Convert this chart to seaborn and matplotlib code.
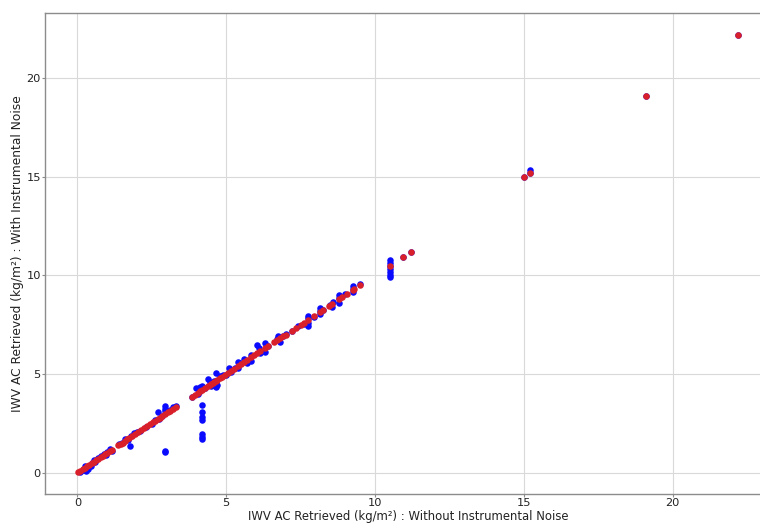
import matplotlib
matplotlib.use("Agg")
import matplotlib.pyplot as plt
import seaborn as sns
import pandas as pd

# Retrieval without instrumental noise (red points lie on y = x)
red_x = [0.02, 0.1, 0.18, 0.25, 0.32, 0.4, 0.48, 0.55, 0.63, 0.7, 0.78, 0.85, 0.92, 1.0,
         1.08, 1.15, 1.38, 1.45, 1.52, 1.6, 1.68, 1.75, 1.85, 1.95, 2.05, 2.15, 2.25, 2.35,
         2.45, 2.55, 2.62, 2.7, 2.78, 2.85, 2.95, 3.05, 3.12, 3.2, 3.3, 3.85, 3.95, 4.05,
         4.12, 4.2, 4.3, 4.4, 4.45, 4.5, 4.55, 4.6, 4.65, 4.7, 4.78, 4.85, 4.95, 5.05, 5.15,
         5.25, 5.4, 5.5, 5.6, 5.7, 5.85, 5.95, 6.05, 6.15, 6.3, 6.4, 6.6, 6.7, 6.8, 6.9, 7.0,
         7.2, 7.35, 7.5, 7.6, 7.75, 7.95, 8.15, 8.25, 8.45, 8.55, 8.78, 8.9, 9.05, 9.25, 9.3,
         9.5, 10.5, 10.95, 11.2, 15.0, 15.2, 19.1, 22.2]
red_y = list(red_x)

# Retrieval with instrumental noise (blue points)
blue_x = [0.1, 0.2, 0.25, 0.3, 0.35, 0.45, 0.5, 0.55, 0.6, 0.7, 0.8, 0.9, 0.95, 1.0, 1.1, 1.15,
          1.4, 1.5, 1.6, 1.7, 1.78, 1.8, 1.9, 2.0, 2.1, 2.3, 2.5, 2.6, 2.72, 2.75, 2.85,
          2.95, 2.95, 2.95, 2.95, 2.95, 3.1, 3.2, 3.3,
          3.85, 4.0, 4.05, 4.1, 4.12, 4.2, 4.2, 4.2, 4.2, 4.2, 4.2, 4.2, 4.2, 4.3, 4.4, 4.45,
          4.5, 4.55, 4.6, 4.65, 4.65, 4.7, 4.8, 4.9, 5.0, 5.1, 5.15, 5.3, 5.4, 5.4, 5.45, 5.6,
          5.7, 5.85, 5.85, 6.05, 6.1, 6.15, 6.3, 6.3, 6.4, 6.7, 6.75, 6.8, 6.9, 7.0, 7.2,
          7.4, 7.6, 7.75, 7.75, 7.75, 7.75, 7.95, 8.15, 8.15, 8.15, 8.25, 8.5, 8.55, 8.6,
          8.78, 8.78, 8.78, 9.0, 9.25, 9.25, 9.25, 9.5, 10.5, 10.5, 10.5, 10.5, 10.5, 10.5,
          10.5, 10.95, 11.2, 15.0, 15.2, 15.2, 19.1, 22.2]
blue_y = [0.05, 0.12, 0.35, 0.1, 0.2, 0.35, 0.5, 0.62, 0.55, 0.75, 0.85, 0.95, 0.9, 1.05, 1.2, 1.1,
          1.45, 1.5, 1.68, 1.65, 1.33, 1.85, 2.0, 2.05, 2.1, 2.3, 2.45, 2.68, 3.08, 2.7, 2.85,
          3.35, 3.22, 3.1, 1.1, 1.05, 3.15, 3.3, 3.35,
          3.85, 4.3, 4.0, 4.1, 4.35, 3.45, 3.06, 2.8, 2.65, 1.93, 1.8, 1.68, 4.4, 4.3, 4.75, 4.6,
          4.4, 4.5, 4.65, 4.35, 5.05, 4.45, 4.9, 4.95, 4.95, 5.3, 5.1, 5.3, 5.6, 5.3, 5.55, 5.75,
          5.55, 5.95, 5.65, 6.45, 6.3, 6.05, 6.55, 6.1, 6.4, 6.75, 6.9, 6.6, 6.95, 7.05, 7.2,
          7.45, 7.55, 7.95, 7.85, 7.6, 7.45, 7.9, 8.35, 8.2, 8.05, 8.25, 8.5, 8.4, 8.65,
          9.0, 8.85, 8.6, 9.05, 9.45, 9.3, 9.15, 9.55, 10.8, 10.65, 10.5, 10.3, 10.15, 10.0,
          9.9, 10.95, 11.2, 15.0, 15.35, 15.17, 19.1, 22.2]

x_label = "IWV AC Retrieved (kg/m²) : Without Instrumental Noise"
y_label = "IWV AC Retrieved (kg/m²) : With Instrumental Noise"

sns.set_style("white")
plt.rcParams["font.family"] = ["DejaVu Sans"]

fig = plt.figure(figsize=(7.6, 5.23), dpi=100)
ax = fig.add_axes([45 / 760, 29 / 523, 726 / 760, 481 / 523])

blue_df = pd.DataFrame({"x": blue_x, "y": blue_y})
red_df = pd.DataFrame({"x": red_x, "y": red_y})

sns.scatterplot(data=blue_df, x="x", y="y", color="#0a0aff", s=22, linewidth=0, ax=ax, zorder=3)
sns.scatterplot(data=red_df, x="x", y="y", color="#d9202a", s=22, linewidth=0, ax=ax, zorder=4)

ax.set_xticks([0, 5, 10, 15, 20])
ax.set_yticks([0, 5, 10, 15, 20])
ax.grid(True, color="#d9d9d9", linewidth=0.8)
ax.set_axisbelow(True)
for side in ["left", "top", "bottom", "right"]:
    ax.spines[side].set_color("#8c8c8c")
    ax.spines[side].set_linewidth(1.0)
ax.tick_params(axis="both", which="both", direction="out", length=2, width=0.8,
               color="#8c8c8c", labelsize=8.2, labelcolor="#222222", pad=1,
               bottom=True, left=True)
ax.set_xlabel(x_label, fontsize=8.4, color="#222222", va="bottom")
ax.set_ylabel(y_label, fontsize=8.8, labelpad=2, color="#222222")
ax.xaxis.set_label_coords(0.5, -(523 - 494) / 481)

fig.savefig("out.png", dpi=100)
